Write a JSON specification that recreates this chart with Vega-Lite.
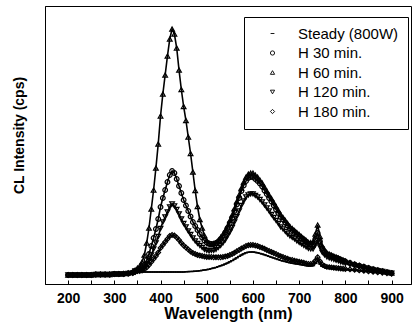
{
  "$schema": "https://vega.github.io/schema/vega-lite/v6.json",
  "width": 366,
  "height": 278,
  "autosize": {"type": "none"},
  "padding": {"left": 45, "top": 6, "right": 2, "bottom": 49},
  "background": "white",
  "config": {"view": {"stroke": "black", "strokeWidth": 1}, "font": "Liberation Sans"},
  "data": {"values": [
    {"w":200,"s":9,"a":9,"b":9,"c":9,"d":9},
    {"w":210,"s":9,"a":9,"b":9,"c":9,"d":9},
    {"w":220,"s":9,"a":9,"b":9,"c":9,"d":9},
    {"w":230,"s":9,"a":9,"b":9,"c":9,"d":9},
    {"w":240,"s":9,"a":9,"b":9,"c":9,"d":9},
    {"w":250,"s":9,"a":9,"b":9,"c":9,"d":9},
    {"w":260,"s":9.5,"a":9.5,"b":9.5,"c":9.5,"d":9.5},
    {"w":270,"s":9.5,"a":9.5,"b":9.5,"c":9.5,"d":9.5},
    {"w":280,"s":9.5,"a":9.5,"b":9.5,"c":9.5,"d":9.5},
    {"w":290,"s":9.5,"a":9.5,"b":9.5,"c":9.5,"d":9.5},
    {"w":300,"s":10,"a":10,"b":10,"c":10,"d":10},
    {"w":310,"s":10,"a":10,"b":10,"c":10,"d":10},
    {"w":320,"s":10,"a":10,"b":10.5,"c":10,"d":10},
    {"w":330,"s":10.5,"a":10.5,"b":11,"c":10.5,"d":10.5},
    {"w":340,"s":11,"a":11.5,"b":12,"c":11,"d":11},
    {"w":345,"s":12,"a":13,"b":14,"c":13,"d":12},
    {"w":350,"s":12,"a":13.5,"b":16,"c":13,"d":13},
    {"w":355,"s":12,"a":14.5,"b":18,"c":14,"d":13},
    {"w":360,"s":12,"a":16,"b":22,"c":15,"d":13.5},
    {"w":365,"s":12,"a":19,"b":29,"c":17,"d":15},
    {"w":370,"s":12,"a":24,"b":41,"c":20,"d":16.5},
    {"w":375,"s":12,"a":30,"b":56,"c":24,"d":19},
    {"w":380,"s":12,"a":38,"b":75,"c":29,"d":22},
    {"w":385,"s":12,"a":46,"b":94,"c":35,"d":25},
    {"w":390,"s":12,"a":55,"b":116,"c":41,"d":28},
    {"w":395,"s":12,"a":65,"b":140,"c":47.5,"d":31.5},
    {"w":400,"s":12,"a":77,"b":168,"c":55.5,"d":36},
    {"w":405,"s":12,"a":86,"b":190,"c":62,"d":39},
    {"w":410,"s":12,"a":94,"b":209,"c":67,"d":42},
    {"w":415,"s":12,"a":102,"b":228,"c":72,"d":45},
    {"w":420,"s":12,"a":109,"b":245,"c":77,"d":48},
    {"w":425,"s":12,"a":113,"b":255,"c":80,"d":49},
    {"w":430,"s":12,"a":111,"b":250,"c":78,"d":48.5},
    {"w":435,"s":12,"a":105,"b":236,"c":74.5,"d":46.5},
    {"w":440,"s":12,"a":98,"b":214,"c":70,"d":44},
    {"w":445,"s":12,"a":91,"b":194.5,"c":65,"d":41},
    {"w":450,"s":12,"a":84,"b":177.5,"c":60.5,"d":38.5},
    {"w":455,"s":12.3,"a":78.5,"b":163.5,"c":57,"d":36.5},
    {"w":460,"s":12.4,"a":73,"b":147,"c":53,"d":34.5},
    {"w":465,"s":12.5,"a":67.5,"b":130.5,"c":49.5,"d":32.5},
    {"w":470,"s":12.6,"a":62,"b":112,"c":46,"d":31},
    {"w":475,"s":12.8,"a":58,"b":93.5,"c":43,"d":30},
    {"w":480,"s":13,"a":54,"b":77.5,"c":40.5,"d":29},
    {"w":485,"s":13.3,"a":50,"b":64.5,"c":38.5,"d":28.5},
    {"w":490,"s":13.6,"a":46.5,"b":56,"c":36.5,"d":28},
    {"w":495,"s":14,"a":43.5,"b":48.5,"c":34.5,"d":27.5},
    {"w":500,"s":14.4,"a":41.5,"b":43.5,"c":33.5,"d":27},
    {"w":505,"s":14.8,"a":40.5,"b":40.5,"c":33,"d":27},
    {"w":510,"s":15.4,"a":40,"b":39.5,"c":33.5,"d":27},
    {"w":515,"s":16,"a":40,"b":40.5,"c":33.5,"d":26.7},
    {"w":520,"s":16.6,"a":41,"b":41,"c":34.5,"d":26.8},
    {"w":525,"s":17.4,"a":42.5,"b":43.5,"c":36.5,"d":26.7},
    {"w":530,"s":18.2,"a":45,"b":46.5,"c":38.5,"d":26.7},
    {"w":535,"s":19,"a":48,"b":49,"c":41,"d":27},
    {"w":540,"s":20,"a":51.5,"b":53.5,"c":44,"d":27.5},
    {"w":545,"s":21,"a":56,"b":58,"c":48,"d":28},
    {"w":550,"s":22.2,"a":61,"b":63.5,"c":52,"d":29},
    {"w":555,"s":23.4,"a":66,"b":69,"c":56.5,"d":30},
    {"w":560,"s":24.8,"a":73,"b":75.5,"c":62,"d":31.3},
    {"w":565,"s":26.2,"a":79.5,"b":82.5,"c":67.5,"d":32.7},
    {"w":570,"s":27.6,"a":86,"b":89,"c":73,"d":34},
    {"w":575,"s":29,"a":93,"b":96,"c":78.5,"d":35.5},
    {"w":580,"s":30.2,"a":98.5,"b":102,"c":83,"d":36.6},
    {"w":585,"s":31.2,"a":103,"b":107,"c":87,"d":38},
    {"w":590,"s":31.8,"a":106,"b":110,"c":89,"d":38.7},
    {"w":595,"s":32,"a":107,"b":111,"c":90,"d":39},
    {"w":600,"s":32,"a":107,"b":111,"c":90,"d":39},
    {"w":605,"s":31.6,"a":105,"b":109,"c":88.5,"d":38.5},
    {"w":610,"s":31.2,"a":103,"b":107,"c":87,"d":38},
    {"w":615,"s":30.6,"a":100.5,"b":104,"c":84.5,"d":37},
    {"w":620,"s":30,"a":97.5,"b":101,"c":82,"d":36.3},
    {"w":625,"s":29.2,"a":93.5,"b":97,"c":79,"d":35.2},
    {"w":630,"s":28.4,"a":90,"b":93,"c":76,"d":34},
    {"w":635,"s":27.6,"a":86,"b":89,"c":73,"d":33},
    {"w":640,"s":26.8,"a":82.5,"b":85.5,"c":69.5,"d":32},
    {"w":645,"s":26,"a":78.5,"b":81.5,"c":66.5,"d":31},
    {"w":650,"s":25.2,"a":74.5,"b":77.5,"c":63.5,"d":30},
    {"w":655,"s":24.4,"a":71,"b":73.5,"c":60.5,"d":28.7},
    {"w":660,"s":23.6,"a":67,"b":69.5,"c":57,"d":27.7},
    {"w":665,"s":23,"a":64.5,"b":66.5,"c":55,"d":27},
    {"w":670,"s":22.4,"a":61.5,"b":63.5,"c":52.5,"d":26},
    {"w":675,"s":21.8,"a":58.5,"b":60.5,"c":50,"d":25.2},
    {"w":680,"s":21.2,"a":55.5,"b":57.5,"c":48,"d":24.4},
    {"w":685,"s":20.8,"a":54,"b":55.5,"c":46.5,"d":24},
    {"w":690,"s":20.4,"a":52,"b":53.5,"c":45,"d":23.3},
    {"w":695,"s":20,"a":50,"b":51.5,"c":43,"d":22.8},
    {"w":700,"s":19.6,"a":48,"b":49.5,"c":41.5,"d":22.3},
    {"w":705,"s":19.2,"a":46,"b":47.5,"c":40,"d":21.7},
    {"w":710,"s":18.8,"a":44.5,"b":45.5,"c":38.5,"d":21.2},
    {"w":715,"s":18.4,"a":42.5,"b":43.5,"c":37,"d":20.6},
    {"w":720,"s":18,"a":40.5,"b":41.5,"c":35.5,"d":20.1},
    {"w":725,"s":18,"a":40,"b":41.5,"c":35,"d":20.1},
    {"w":730,"s":18.3,"a":40,"b":42,"c":35,"d":20.5},
    {"w":735,"s":20.5,"a":45,"b":50,"c":39,"d":23.4},
    {"w":740,"s":23,"a":51,"b":59,"c":43.5,"d":26.8},
    {"w":745,"s":20,"a":42.5,"b":47.5,"c":37,"d":22.7},
    {"w":750,"s":17.6,"a":36,"b":38,"c":31.5,"d":19.5},
    {"w":755,"s":16.6,"a":32.5,"b":34,"c":29,"d":18.1},
    {"w":760,"s":15.8,"a":30,"b":31,"c":27,"d":17.1},
    {"w":765,"s":15.6,"a":29,"b":30,"c":26,"d":16.9},
    {"w":770,"s":15.4,"a":28,"b":29,"c":25.3,"d":16.6},
    {"w":775,"s":15.2,"a":27,"b":28,"c":24.5,"d":16.3},
    {"w":780,"s":15,"a":26.3,"b":27,"c":23.7,"d":16},
    {"w":785,"s":14.8,"a":25.3,"b":26,"c":23,"d":15.8},
    {"w":790,"s":14.6,"a":24.4,"b":25,"c":22,"d":15.5},
    {"w":795,"s":14.4,"a":23.4,"b":24,"c":21.4,"d":15.2},
    {"w":800,"s":14.2,"a":22.5,"b":23,"c":20.6,"d":15},
    {"w":810,"s":13.9,"a":21,"b":21.5,"c":19.4,"d":14.6},
    {"w":820,"s":13.6,"a":19.6,"b":20,"c":18.2,"d":14.2},
    {"w":830,"s":13.2,"a":18.4,"b":18.7,"c":17.2,"d":13.6},
    {"w":840,"s":12.7,"a":17.2,"b":17.4,"c":16.2,"d":13.1},
    {"w":850,"s":12.2,"a":16,"b":16.2,"c":15.1,"d":12.6},
    {"w":860,"s":11.8,"a":14.8,"b":15,"c":14.1,"d":12.1},
    {"w":870,"s":11.4,"a":13.8,"b":14,"c":13.3,"d":11.6},
    {"w":880,"s":11,"a":12.9,"b":13,"c":12.5,"d":11.2},
    {"w":890,"s":10.6,"a":11.9,"b":12,"c":11.6,"d":10.7},
    {"w":900,"s":10.2,"a":11,"b":11,"c":10.8,"d":10.3}
  ]},
  "transform": [
    {"fold": ["s", "a", "b", "c", "d"], "as": ["k", "v"]},
    {"lookup": "k", "from": {"data": {"values": [
      {"k": "s", "name": "Steady (800W)"},
      {"k": "a", "name": "H 30 min."},
      {"k": "b", "name": "H 60 min."},
      {"k": "c", "name": "H 120 min."},
      {"k": "d", "name": "H 180 min."}
    ]}, "key": "k", "fields": ["name"]}}
  ],
  "encoding": {
    "x": {
      "field": "w", "type": "quantitative",
      "scale": {"domain": [150, 942], "nice": false, "zero": false},
      "axis": {
        "title": "Wavelength (nm)",
        "values": [200, 250, 300, 350, 400, 450, 500, 550, 600, 650, 700, 750, 800, 850, 900],
        "labelExpr": "datum.value % 100 === 0 ? datum.label : ''",
        "labelOverlap": false, "labelFlush": false,
        "labelFontWeight": "bold", "labelFontSize": 14, "labelColor": "black",
        "tickColor": "black", "tickSize": -4, "labelPadding": 11,
        "domainColor": "black", "grid": false,
        "titleFontSize": 16, "titleFontWeight": "bold", "titleColor": "black",
        "titleBaseline": "alphabetic", "titleY": 34
      }
    },
    "y": {
      "field": "v", "type": "quantitative",
      "scale": {"domain": [0, 278], "nice": false},
      "axis": {
        "title": "CL Intensity (cps)", "labels": false, "ticks": false, "grid": false,
        "domainColor": "black",
        "titleFontSize": 14, "titleFontWeight": "bold", "titleColor": "black",
        "titleX": -22, "titleY": 129, "titleBaseline": "alphabetic", "titleAngle": 270, "titleAlign": "center"
      }
    }
  },
  "layer": [
    {
      "mark": {"type": "line", "color": "black", "strokeWidth": 1.6},
      "encoding": {"detail": {"field": "name", "type": "nominal"}}
    },
    {
      "mark": {"type": "point", "filled": false, "color": "black", "size": 22, "strokeWidth": 1.2, "opacity": 1},
      "encoding": {
        "shape": {
          "field": "name", "type": "nominal",
          "scale": {
            "domain": ["Steady (800W)", "H 30 min.", "H 60 min.", "H 120 min.", "H 180 min."],
            "range": ["M-0.9,0H0.9", "circle", "triangle-up", "triangle-down", "diamond"]
          },
          "legend": {
            "title": null, "orient": "none", "legendX": 199, "legendY": 11,
            "strokeColor": "black", "fillColor": "white",
            "padding": 9, "labelFontSize": 15, "labelColor": "black",
            "symbolSize": 18, "symbolStrokeColor": "black", "symbolStrokeWidth": 0.9,
            "symbolOffset": 12, "labelOffset": 18, "rowPadding": 3.5
          }
        }
      }
    }
  ]
}
